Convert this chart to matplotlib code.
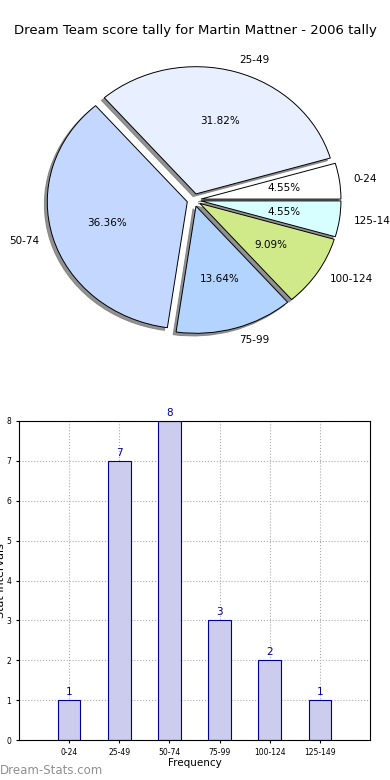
from matplotlib import pyplot as plt

# Intervalos e contagens
intervals = ['0-24', '25-49', '50-74', '75-99', '100-124', '125-149']
counts = [1, 7, 8, 3, 2, 1]
slice_colors = ['#ffffff', '#e8f0ff', '#c4d8ff', '#b2d4ff', '#d0ea8a', '#d8ffff']

fig = plt.figure(figsize=(3.9, 7.8), dpi=100)

fig.text(0.5, 0.961, 'Dream Team score tally for Martin Mattner - 2006 tally',
         ha='center', va='center', fontsize=9.5)

# Pizza (levemente esticada na horizontal, como no original)
h = 318
w = 350
ax1 = fig.add_axes([(194 - w / 2) / 390, (580 - h / 2) / 780, w / 390, h / 780])
ax1.pie(counts, labels=intervals, colors=slice_colors, explode=[0.05] * len(counts),
        autopct='%1.2f%%', shadow={'ox': -0.015, 'oy': -0.015, 'color': '#777777', 'alpha': 0.8},
        startangle=0, counterclock=True,
        wedgeprops={'edgecolor': 'black', 'linewidth': 0.7},
        textprops={'fontsize': 7.5})
ax1.set_xlim(-1.25, 1.25)
ax1.set_ylim(-1.25, 1.25)
ax1.set_aspect('auto')

# Barras
ax2 = fig.add_axes([19 / 390, 40 / 780, 351 / 390, 319 / 780])
x = range(len(intervals))
bars = ax2.bar(x, counts, width=0.45, color='#ccccee', edgecolor='#000099', linewidth=0.8, zorder=2)
for b, c in zip(bars, counts):
    ax2.text(b.get_x() + b.get_width() / 2, c + 0.08, str(c), ha='center', va='bottom',
             color='#000099', fontsize=7.5)
ax2.set_xlim(-1, 6)
ax2.set_ylim(0, 8)
ax2.set_xticks(list(x))
ax2.set_xticklabels(intervals)
ax2.set_yticks(range(9))
ax2.tick_params(labelsize=5.5, length=2)
ax2.grid(True, linestyle=':', color='#aaaaaa', linewidth=0.8, zorder=0)
ax2.set_axisbelow(True)
ax2.set_xlabel('Frequency', fontsize=7.5, labelpad=1)
ax2.set_ylabel('Stat Intervals', fontsize=8)
ax2.yaxis.set_label_coords(-0.036, 0.5)

fig.text(0.0, 0.012, 'Dream-Stats.com', color='#909090', fontsize=8.5,
         ha='left', va='center')

plt.savefig('out.png', dpi=100)
